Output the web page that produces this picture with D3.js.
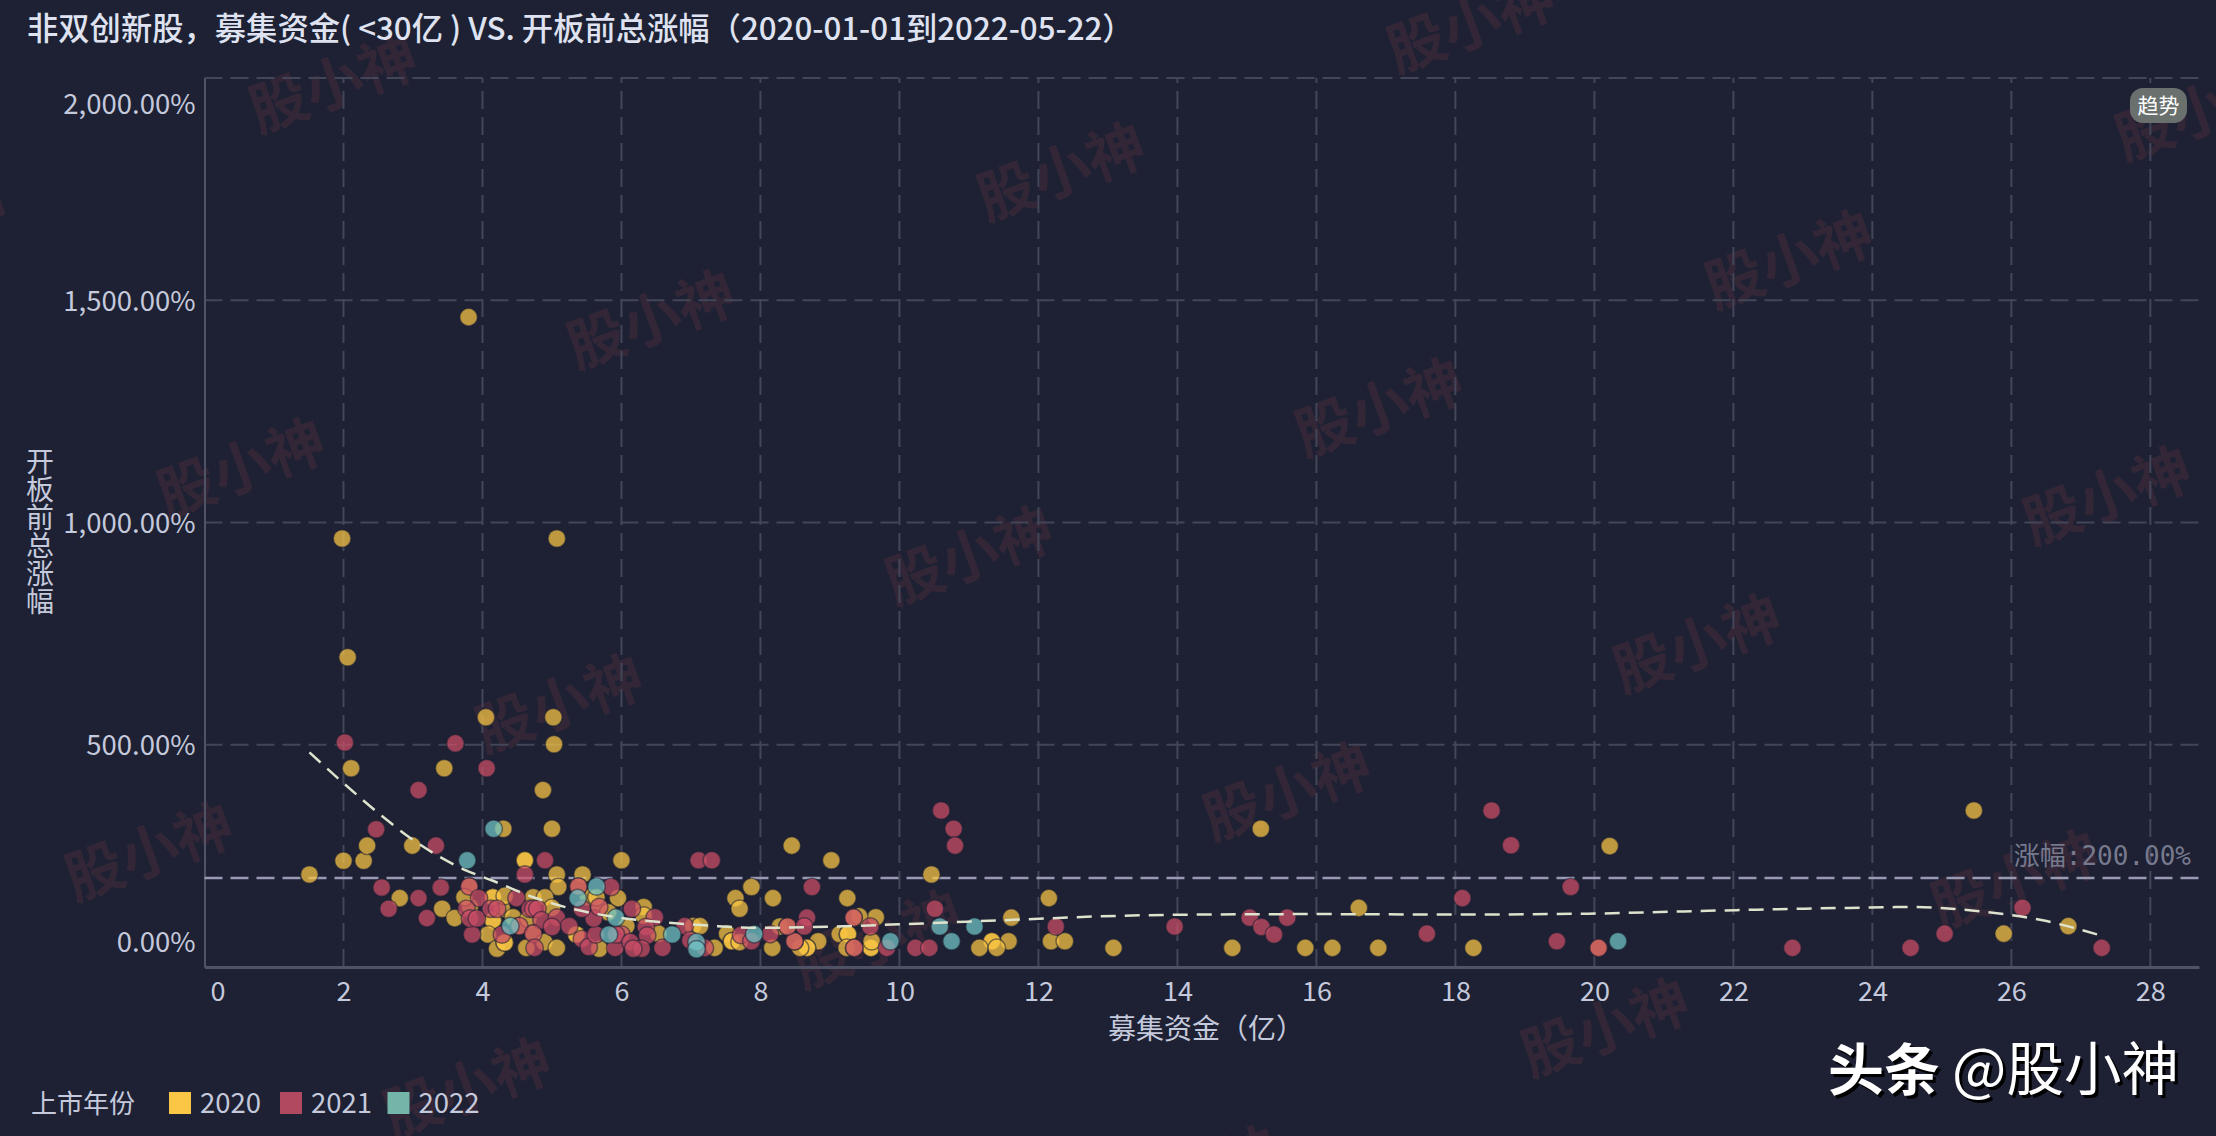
<!DOCTYPE html>
<html>
<head>
<meta charset="utf-8">
<script src="https://cdn.jsdelivr.net/npm/d3@7"></script>
<style>
  html, body { margin: 0; padding: 0; background: #1d2133; }
  svg { display: block; }
  text { font-family: "Noto Sans CJK SC", "Noto Sans", sans-serif; }
</style>
</head>
<body>
<div id="chart"></div>
<script>
var width = 2216;
var height = 1136;
var margin = {top: 78, left: 204.5, right: 17, bottom: 169};

var titleText = "非双创新股，募集资金( <30亿 ) VS. 开板前总涨幅（2020-01-01到2022-05-22）";
var xTitle = "募集资金（亿）";
var yTitle = "开板前总涨幅";
var legendTitle = "上市年份";
var years = ["2020", "2021", "2022"];
var xTicks = [0,2,4,6,8,10,12,14,16,18,20,22,24,26,28];
var yTicks = [0,500,1000,1500,2000];
var thresholdValue = 200;

// [fund raised, gain %]
var points2020 = [
  [1.51,208],[2.0,239],[2.29,239],[2.34,273],[2.11,447],[2.81,155],[2.99,273],[3.45,447],[3.42,131],[3.6,110],
  [4.05,562],[5.02,562],[5.03,501],[4.87,398],[5.0,311],[4.3,311],[4.61,240],[4.61,240],[6.0,240],[5.07,208],
  [5.44,208],[5.09,180],[5.95,155],[3.81,181],[3.82,135],[3.74,157],[4.28,131],[4.15,157],[4.15,157],[4.32,160],
  [4.15,105],[4.15,105],[4.08,73],[4.21,41],[4.32,55],[4.32,55],[4.44,112],[4.53,92],[4.73,157],[4.9,157],
  [4.66,108],[5.0,133],[4.73,75],[4.63,43],[4.89,56],[5.07,43],[5.35,73],[5.35,73],[5.68,41],[5.68,135],
  [5.52,157],[5.81,123],[5.38,181],[5.64,157],[6.32,135],[6.53,75],[6.32,116],[6.07,92],[7.03,92],[7.13,92],
  [7.34,43],[7.64,155],[7.70,131],[7.52,75],[7.59,58],[7.59,58],[7.7,56],[7.87,180],[8.18,155],[8.45,273],
  [9.02,240],[9.25,155],[10.46,208],[11.61,111],[12.15,155],[12.18,58],[12.38,58],[11.57,58],[11.33,58],[11.33,58],
  [11.15,43],[11.4,43],[13.08,43],[9.59,43],[9.59,43],[9.6,58],[9.66,112],[9.42,114],[9.34,111],[9.14,74],
  [9.26,74],[9.26,74],[9.24,43],[9.35,43],[8.83,58],[8.67,43],[8.67,43],[8.57,43],[8.17,43],[8.28,91],
  [8.39,91],[8.49,58],[14.79,43],[15.2,311],[15.84,43],[16.23,43],[16.61,133],[16.89,43],[18.26,43],[20.06,43],
  [20.22,272],[25.46,352],[25.89,75],[26.82,92],[1.98,964],[5.07,964],[2.06,697],[3.8,1462]
];

var points2021 = [
  [2.02,505],[3.61,503],[4.06,447],[3.08,398],[2.47,310],[3.33,273],[4.9,240],[4.61,208],[2.55,179],[3.4,179],
  [3.08,155],[2.65,131],[3.2,110],[3.85,73],[5.85,180],[7.11,240],[7.3,240],[3.81,181],[3.95,155],[3.77,131],
  [3.82,109],[3.92,109],[4.12,131],[4.21,131],[4.28,73],[4.49,155],[4.53,92],[4.68,131],[4.73,131],[4.79,131],
  [4.85,105],[5.07,111],[5.0,90],[4.73,75],[4.75,43],[5.25,92],[5.43,63],[5.53,45],[5.91,43],[5.63,73],
  [5.6,109],[5.43,131],[5.68,135],[5.38,181],[6.15,131],[6.48,112],[6.35,90],[6.37,71],[6.0,73],[5.92,73],
  [6.13,56],[6.29,41],[6.17,41],[6.59,43],[6.91,92],[6.99,60],[7.2,43],[7.72,72],[7.87,58],[8.74,180],
  [10.6,352],[10.78,311],[10.8,273],[10.51,131],[12.25,91],[13.96,91],[10.23,43],[10.43,43],[9.82,43],[9.58,91],
  [9.34,111],[9.35,43],[8.49,58],[8.67,111],[8.39,91],[8.63,91],[8.14,74],[15.04,111],[15.21,90],[15.39,73],
  [15.58,111],[17.59,75],[18.1,155],[18.52,352],[18.8,274],[19.46,58],[19.66,180],[20.06,43],[22.85,43],[24.55,43],
  [25.04,75],[26.16,133],[27.3,43]
];

var points2022 = [
  [4.16,311],[3.78,240],[5.64,181],[5.37,155],[4.4,92],[5.82,73],[5.92,111],[6.73,73],[7.08,56],[7.08,40],
  [10.58,91],[11.08,91],[10.75,58],[9.87,58],[7.91,74],[20.34,58]
];

var trendLine = [
  [1.51,483],[1.99,415],[2.55,340],[3.0,286],[3.77,217],[4.15,194],[4.73,157],[5.21,134],[5.93,112],[6.89,97],
  [7.27,93],[7.99,88],[9.05,91],[10.0,96],[10.97,102],[11.93,108],[12.89,114],[14.3,118],[16.0,119],[18.05,118],
  [19.9,120],[21.78,127],[23.65,133],[24.58,135],[25.5,126],[26.45,105],[27.24,73]
];

var seriesList = [points2020, points2021, points2022];
var pointColors = ["#f8c344", "#c94d65", "#6ec2c4"];
var legendColors = ["#fbc546", "#b14a60", "#74b5aa"];

var svg = d3.select("#chart")
  .append("svg")
  .attr("width", width)
  .attr("height", height);

svg.append("rect")
  .attr("width", width)
  .attr("height", height)
  .attr("fill", "#1d2133");

// background watermark lattice
var marks = [];
for (var i = -4; i < 8; i++) {
  for (var j = -6; j < 8; j++) {
    var mx = 332 + i * 318 + j * 410;
    var my = 80 + i * 236 - j * 148;
    if (mx > -100 && mx < width + 100 && my > -60 && my < height + 60) marks.push([mx, my]);
  }
}
svg.append("g").selectAll("text")
  .data(marks)
  .enter()
  .append("text")
    .attr("transform", function(d) { return "translate(" + d[0] + "," + d[1] + ") rotate(-20)"; })
    .attr("text-anchor", "middle")
    .attr("dominant-baseline", "central")
    .attr("font-size", 58)
    .attr("font-weight", 700)
    .attr("fill", "#a8434f")
    .attr("opacity", 0.15)
    .text("股小神");

var xScale = d3.scaleLinear()
  .domain([0, 28.7])
  .range([margin.left, width - margin.right]);

var yScale = d3.scaleLinear()
  .domain([0, 2000])
  .range([height - margin.bottom, margin.top]);

// grid
svg.append("g").selectAll("line")
  .data(xTicks.slice(1))
  .enter()
  .append("line")
    .attr("x1", function(d) { return xScale(d); })
    .attr("x2", function(d) { return xScale(d); })
    .attr("y1", yScale(0))
    .attr("y2", yScale(2000))
    .attr("stroke", "#434658")
    .attr("stroke-width", 2)
    .attr("stroke-dasharray", "18,8");

svg.append("g").selectAll("line")
  .data(yTicks.slice(1))
  .enter()
  .append("line")
    .attr("x1", xScale(0))
    .attr("x2", width - margin.right)
    .attr("y1", function(d) { return yScale(d); })
    .attr("y2", function(d) { return yScale(d); })
    .attr("stroke", "#434658")
    .attr("stroke-width", 2)
    .attr("stroke-dasharray", "18,8");

// axes
var xAxis = svg.append("g")
  .attr("transform", `translate(0,${yScale(0)})`)
  .call(d3.axisBottom(xScale).tickValues(xTicks).tickSize(0).tickPadding(15));
xAxis.select(".domain").attr("stroke", "#505366").attr("stroke-width", 3);
xAxis.selectAll("text")
  .attr("font-size", 27)
  .attr("fill", "#c5c9dc")
  .attr("font-family", "Noto Sans CJK SC")
  .attr("dx", function(d) { return d === 0 ? 13 : 0; });

var yAxis = svg.append("g")
  .attr("transform", `translate(${margin.left},0)`)
  .call(d3.axisLeft(yScale)
    .tickValues(yTicks)
    .tickSize(0)
    .tickPadding(9)
    .tickFormat(function(d) { return d3.format(",.2f")(d) + "%"; }));
yAxis.select(".domain").attr("stroke", "#505366").attr("stroke-width", 2);
yAxis.selectAll("text")
  .attr("font-size", 27.5)
  .attr("fill", "#c5c9dc")
  .attr("font-family", "Noto Sans CJK SC")
  .attr("dy", function(d) {
    if (d === 0) return -16;
    if (d === 2000) return 35;
    return 10;
  });

// threshold line
svg.append("line")
  .attr("x1", xScale(0))
  .attr("x2", width - margin.right)
  .attr("y1", yScale(thresholdValue))
  .attr("y2", yScale(thresholdValue))
  .attr("stroke", "#9a9ab4")
  .attr("stroke-width", 2.5)
  .attr("stroke-dasharray", "18,8");

svg.append("text")
  .attr("x", 2191)
  .attr("y", 865)
  .attr("text-anchor", "end")
  .attr("font-size", 26)
  .attr("fill", "#777a8e")
  .style("font-family", '"DejaVu Sans Mono", "Noto Sans CJK SC", monospace')
  .text("涨幅:" + d3.format(".2f")(thresholdValue) + "%");

// scatter points
seriesList.forEach(function(points, k) {
  svg.append("g").selectAll("circle")
    .data(points)
    .enter()
    .append("circle")
      .attr("cx", function(d) { return xScale(d[0]); })
      .attr("cy", function(d) { return yScale(d[1]); })
      .attr("r", 8.8)
      .attr("fill", pointColors[k])
      .attr("fill-opacity", 0.74)
      .attr("stroke", "#1d2133")
      .attr("stroke-opacity", 0.55)
      .attr("stroke-width", 1.5);
});

// trend curve
var trendPath = d3.line()
  .x(function(d) { return xScale(d[0]); })
  .y(function(d) { return yScale(d[1]); })
  .curve(d3.curveMonotoneX);

svg.append("path")
  .attr("d", trendPath(trendLine))
  .attr("fill", "none")
  .attr("stroke", "#dde3cd")
  .attr("stroke-width", 2.5)
  .attr("stroke-dasharray", "15,9");

// title
svg.append("text")
  .attr("x", 27)
  .attr("y", 40)
  .attr("font-size", 31.3)
  .attr("font-weight", 500)
  .attr("fill", "#dfe2f0")
  .text(titleText);

// axis titles
svg.append("text")
  .attr("x", 1206)
  .attr("y", 1039)
  .attr("text-anchor", "middle")
  .attr("font-size", 28)
  .attr("fill", "#c5c9dc")
  .text(xTitle);

svg.append("text")
  .attr("x", 40)
  .attr("y", 447)
  .attr("font-size", 28)
  .attr("fill", "#c5c9dc")
  .style("writing-mode", "vertical-rl")
  .style("text-orientation", "upright")
  .text(yTitle);

// legend
var legendX = [169, 280, 387.5];
svg.append("text")
  .attr("x", 31)
  .attr("y", 1113)
  .attr("font-size", 26)
  .attr("fill", "#c5c9dc")
  .text(legendTitle);

var legend = svg.append("g").selectAll("g")
  .data(years)
  .enter()
  .append("g")
    .attr("transform", function(d, i) { return "translate(" + legendX[i] + ",1092)"; });

legend.append("rect")
  .attr("width", 22)
  .attr("height", 22)
  .attr("fill", function(d, i) { return legendColors[i]; });

legend.append("text")
  .attr("x", 31)
  .attr("y", 21)
  .attr("font-size", 27.5)
  .attr("fill", "#c5c9dc")
  .text(function(d) { return d; });

// trend badge
svg.append("rect")
  .attr("x", 2130)
  .attr("y", 88)
  .attr("width", 57)
  .attr("height", 35)
  .attr("rx", 13)
  .attr("fill", "#6a706e");

svg.append("text")
  .attr("x", 2158.5)
  .attr("y", 113)
  .attr("text-anchor", "middle")
  .attr("font-size", 21)
  .attr("fill", "#ffffff")
  .text("趋势");

// site stamp
svg.append("text")
  .attr("x", 1828)
  .attr("y", 1090)
  .attr("font-size", 56)
  .attr("font-weight", 700)
  .attr("fill", "#ffffff")
  .style("filter", "drop-shadow(3px 3px 0 #000)")
  .text("头条");

svg.append("text")
  .attr("x", 1952)
  .attr("y", 1090)
  .attr("font-size", 57.5)
  .attr("fill", "#ffffff")
  .style("filter", "drop-shadow(3px 3px 0 #000)")
  .text("@股小神");
</script>
</body>
</html>
